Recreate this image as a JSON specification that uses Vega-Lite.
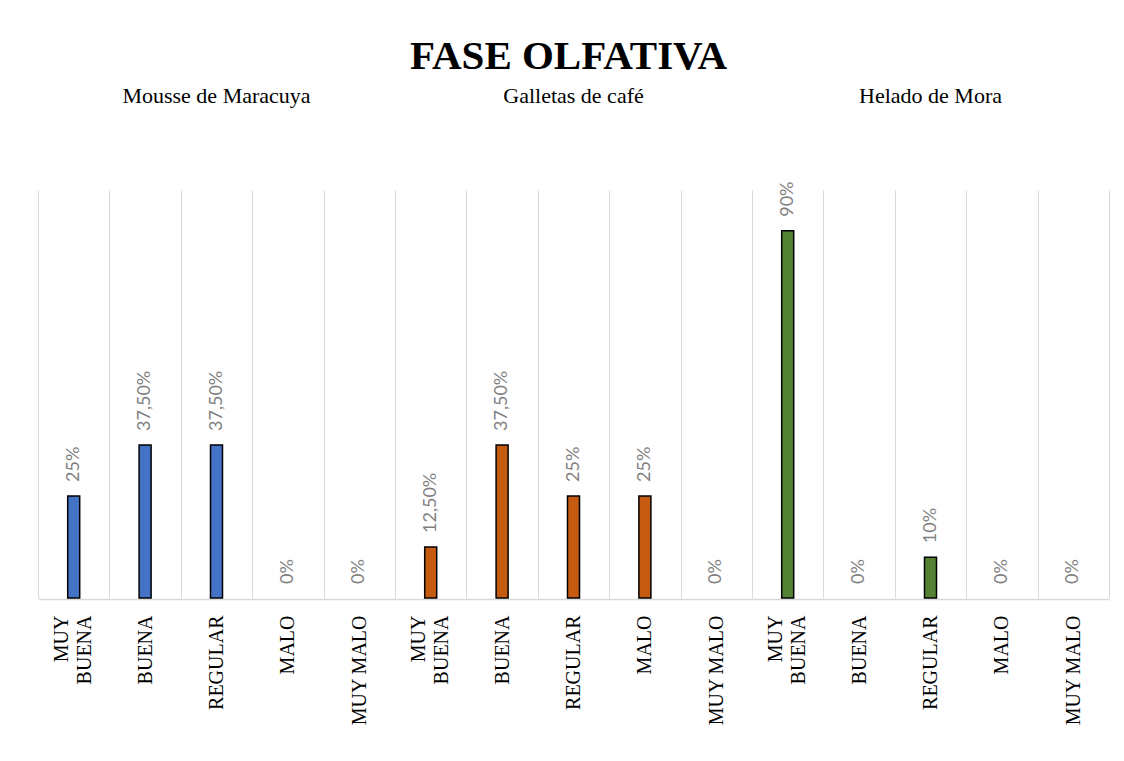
{
  "$schema": "https://vega.github.io/schema/vega-lite/v6.json",
  "background": "white",
  "padding": {"left": 28, "top": 36, "right": 5, "bottom": 5},
  "title": {"text": "FASE OLFATIVA", "font": "Liberation Serif", "fontSize": 41, "fontWeight": "bold", "color": "black", "anchor": "middle", "offset": 7},
  "data": {"values": [
    {"producto": "Mousse de Maracuya", "calificacion": "MUY BUENA", "valor": 0.25, "etiqueta": "25%"},
    {"producto": "Mousse de Maracuya", "calificacion": "BUENA", "valor": 0.375, "etiqueta": "37,50%"},
    {"producto": "Mousse de Maracuya", "calificacion": "REGULAR", "valor": 0.375, "etiqueta": "37,50%"},
    {"producto": "Mousse de Maracuya", "calificacion": "MALO", "valor": 0, "etiqueta": "0%"},
    {"producto": "Mousse de Maracuya", "calificacion": "MUY MALO", "valor": 0, "etiqueta": "0%"},
    {"producto": "Galletas de café", "calificacion": "MUY BUENA", "valor": 0.125, "etiqueta": "12,50%"},
    {"producto": "Galletas de café", "calificacion": "BUENA", "valor": 0.375, "etiqueta": "37,50%"},
    {"producto": "Galletas de café", "calificacion": "REGULAR", "valor": 0.25, "etiqueta": "25%"},
    {"producto": "Galletas de café", "calificacion": "MALO", "valor": 0.25, "etiqueta": "25%"},
    {"producto": "Galletas de café", "calificacion": "MUY MALO", "valor": 0, "etiqueta": "0%"},
    {"producto": "Helado de Mora", "calificacion": "MUY BUENA", "valor": 0.9, "etiqueta": "90%"},
    {"producto": "Helado de Mora", "calificacion": "BUENA", "valor": 0, "etiqueta": "0%"},
    {"producto": "Helado de Mora", "calificacion": "REGULAR", "valor": 0.1, "etiqueta": "10%"},
    {"producto": "Helado de Mora", "calificacion": "MALO", "valor": 0, "etiqueta": "0%"},
    {"producto": "Helado de Mora", "calificacion": "MUY MALO", "valor": 0, "etiqueta": "0%"}
  ]},
  "facet": {
    "column": {
      "field": "producto", "type": "nominal",
      "sort": ["Mousse de Maracuya", "Galletas de café", "Helado de Mora"],
      "title": null,
      "header": {"labelFont": "Liberation Serif", "labelFontSize": 22, "labelColor": "black", "labelPadding": 73}
    }
  },
  "spacing": 0,
  "spec": {
    "width": 357,
    "height": 408,
    "encoding": {
      "x": {
        "field": "calificacion", "type": "nominal",
        "sort": ["MUY BUENA", "BUENA", "REGULAR", "MALO", "MUY MALO"],
        "scale": {"paddingInner": 0, "paddingOuter": 0},
        "axis": {
          "title": null, "labelAngle": -90, "labelFont": "Liberation Serif", "labelFontSize": 20,
          "labelColor": "black", "labelPadding": 16, "ticks": false, "tickBand": "extent",
          "grid": true, "gridColor": "#d9d9d9", "gridWidth": 1, "domainColor": "#d9d9d9", "domainWidth": 1.5,
          "labelLineHeight": 23,
          "labelBaseline": {"condition": {"test": "datum.value === 'MUY BUENA'", "value": "line-bottom"}, "value": "middle"},
          "labelExpr": "datum.label == 'MUY BUENA' ? ['MUY', 'BUENA'] : datum.label"
        }
      },
      "y": {"field": "valor", "type": "quantitative", "scale": {"domain": [0, 1], "nice": false}, "axis": null}
    },
    "layer": [
      {
        "transform": [{"filter": "datum.valor > 0"}],
        "mark": {"type": "bar", "width": 12, "stroke": "black", "strokeWidth": 1.5},
        "encoding": {
          "color": {
            "field": "producto", "type": "nominal", "legend": null,
            "scale": {"domain": ["Mousse de Maracuya", "Galletas de café", "Helado de Mora"], "range": ["#4472C4", "#C55A11", "#548235"]}
          }
        }
      },
      {
        "mark": {"type": "text", "angle": 270, "align": "left", "baseline": "middle", "dx": 14, "font": "Lato", "fontSize": 18, "color": "#7f7f7f"},
        "encoding": {"text": {"field": "etiqueta", "type": "nominal"}}
      }
    ]
  },
  "config": {"view": {"stroke": null}}
}
